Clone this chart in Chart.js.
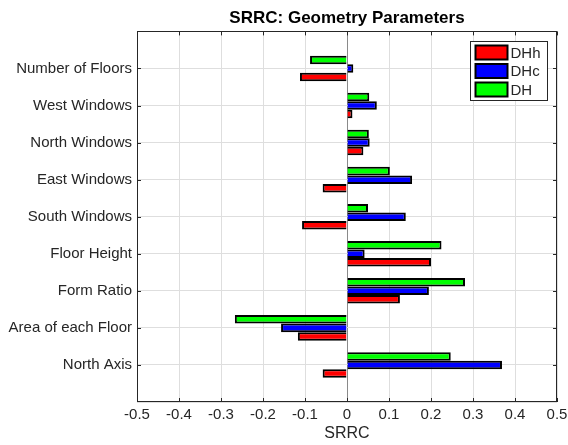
<!DOCTYPE html>
<html>
<head>
<meta charset="utf-8">
<script src="https://cdn.jsdelivr.net/npm/chart.js@4.4.0/dist/chart.umd.min.js"></script>
<style>
  html, body { margin: 0; padding: 0; background: #fff; }
  #wrap { width: 568px; height: 445px; }
</style>
</head>
<body>
<div id="wrap"><canvas id="myChart" width="568" height="445"></canvas></div>
<script>
// categories, top to bottom
const categories = ['Number of Floors', 'West Windows', 'North Windows', 'East Windows',
  'South Windows', 'Floor Height', 'Form Ratio', 'Area of each Floor', 'North Axis'];

// SRRC values
const dhh = [-0.112, 0.013, 0.039, -0.058, -0.107, 0.200, 0.126, -0.117, -0.058];
const dhc = [0.015, 0.071, 0.054, 0.155, 0.140, 0.042, 0.195, -0.157, 0.369];
const dh  = [-0.088, 0.053, 0.052, 0.102, 0.050, 0.225, 0.281, -0.267, 0.247];

const xTicks = [-0.5, -0.4, -0.3, -0.2, -0.1, 0, 0.1, 0.2, 0.3, 0.4, 0.5];

// empty slot above and below, like matlab's axis limits 0..10
const pad = arr => [null].concat(arr, [null]);
const labels = [''].concat(categories, ['']);

const txt = '#262626';
const font = 'Liberation Sans, Arial, Helvetica, sans-serif';

// box around the axes, inner ticks and the legend inside the plot
const frame = {
  id: 'frame',
  afterDatasetsDraw(chart) {
    const ctx = chart.ctx, a = chart.chartArea;
    const xs = chart.scales.x, ys = chart.scales.y;
    ctx.save();
    ctx.strokeStyle = txt;
    ctx.lineWidth = 1;
    ctx.beginPath();
    xTicks.forEach(v => {
      const px = Math.round(xs.getPixelForValue(v)) + 0.5;
      ctx.moveTo(px, a.top); ctx.lineTo(px, a.top + 4);
      ctx.moveTo(px, a.bottom); ctx.lineTo(px, a.bottom - 4);
    });
    for (let i = 1; i <= categories.length; i++) {
      const py = Math.round(ys.getPixelForValue(i)) + 0.5;
      ctx.moveTo(a.left, py); ctx.lineTo(a.left + 4, py);
      ctx.moveTo(a.right, py); ctx.lineTo(a.right - 4, py);
    }
    ctx.stroke();
    ctx.strokeRect(Math.round(a.left) + 0.5, Math.round(a.top) + 0.5,
      Math.round(a.width) - 1, Math.round(a.height) - 1);

    // legend
    const sets = chart.data.datasets.slice().reverse();
    const lx = 470.5, ly = 41.5, lw = 77, lh = 59;
    ctx.fillStyle = '#fff';
    ctx.fillRect(lx, ly, lw, lh);
    ctx.strokeRect(lx, ly, lw, lh);
    ctx.font = '15px ' + font;
    ctx.textBaseline = 'middle';
    sets.forEach((ds, i) => {
      const cy = ly + 11 + i * 18.5;
      ctx.fillStyle = ds.backgroundColor;
      ctx.fillRect(lx + 5, cy - 7, 32, 14);
      ctx.lineWidth = 2;
      ctx.strokeStyle = '#000';
      ctx.strokeRect(lx + 5, cy - 7, 32, 14);
      ctx.fillStyle = txt;
      ctx.fillText(ds.label, lx + 40, cy + 1);
    });
    ctx.restore();
  }
};

new Chart(document.getElementById('myChart'), {
  type: 'bar',
  data: {
    labels: labels,
    datasets: [
      { label: 'DH', data: pad(dh), backgroundColor: '#00ff00' },
      { label: 'DHc', data: pad(dhc), backgroundColor: '#0000ff' },
      { label: 'DHh', data: pad(dhh), backgroundColor: '#ff0000' }
    ]
  },
  options: {
    indexAxis: 'y',
    responsive: false,
    animation: false,
    layout: { padding: 0 },
    datasets: {
      bar: {
        borderColor: '#000',
        borderWidth: 2,
        categoryPercentage: 0.69,
        barPercentage: 1.0
      }
    },
    plugins: {
      legend: { display: false },
      tooltip: { enabled: false },
      title: {
        display: true,
        fullSize: false,
        text: 'SRRC: Geometry Parameters',
        color: '#000',
        font: { family: font, size: 17, weight: 'bold' },
        padding: { top: 8, bottom: 3 }
      }
    },
    scales: {
      x: {
        type: 'linear',
        min: -0.5,
        max: 0.5,
        afterBuildTicks: s => { s.ticks = xTicks.map(v => ({ value: v })); },
        ticks: {
          color: txt,
          font: { family: font, size: 15 },
          padding: 4,
          maxRotation: 0,
          callback: v => Number(v.toFixed(1)).toString()
        },
        grid: {
          color: c => (c.tick && c.tick.value === 0) ? '#8a8a8a' : '#dedede',
          drawTicks: false
        },
        border: { display: false },
        title: {
          display: true,
          text: 'SRRC',
          color: txt,
          font: { family: font, size: 16 },
          padding: { top: 0, bottom: 2 }
        },
        afterFit: s => { s.height = 43; s.paddingRight = 11; }
      },
      y: {
        ticks: {
          color: txt,
          font: { family: font, size: 15 },
          padding: 5,
          autoSkip: false
        },
        offset: false,
        grid: { color: '#dedede', drawTicks: false, offset: false },
        border: { display: false },
        afterFit: s => { s.width = 137; }
      }
    }
  },
  plugins: [frame]
});
</script>
</body>
</html>
